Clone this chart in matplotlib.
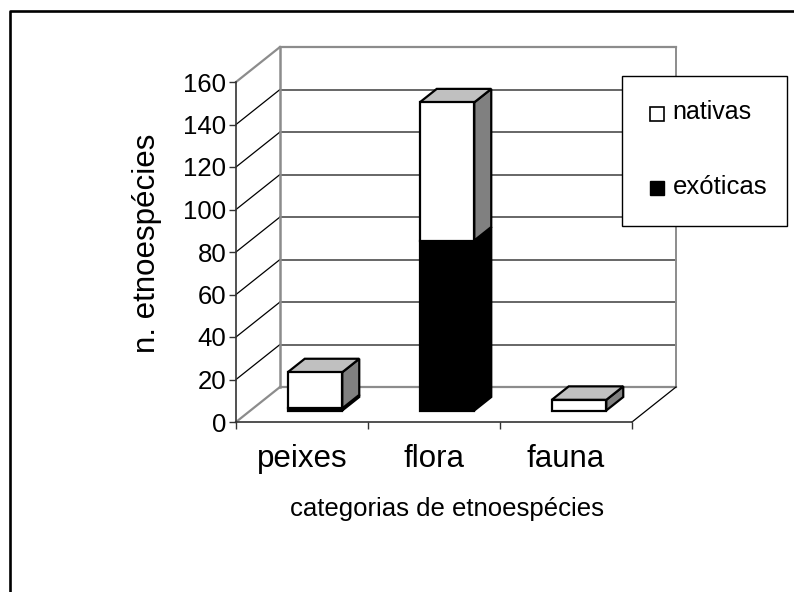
#!/usr/bin/env python3
import matplotlib
matplotlib.use("Agg")
import matplotlib.pyplot as plt
from matplotlib.patches import Polygon, Rectangle
from matplotlib.transforms import Affine2D

plt.rcParams['font.family'] = ['Liberation Sans', 'DejaVu Sans']

W, H = 794, 592

categories = ["peixes", "flora", "fauna"]
exoticas = [1, 80, 0]
nativas = [17, 65, 5]
y_ticks = [0, 20, 40, 60, 80, 100, 120, 140, 160]

GRID = "#4d4d4d"
WALL = "#8c8c8c"
TOP = "#c0c0c0"
SIDE = "#808080"


def px(x, y):
    return x / W, 1 - y / H


fig = plt.figure(figsize=(W / 100, H / 100), dpi=100)
fig.add_artist(plt.Line2D([10 / W, 10 / W, 1], [0, 1 - 11 / H, 1 - 11 / H],
                          transform=fig.transFigure, color="black", lw=1.9))

# axes = front plane of the 3d box
ax = fig.add_axes([236 / W, 1 - 422 / H, 396 / W, 340 / H])
ax.set_xlim(0, 3)
ax.set_ylim(0, 160)
ax.patch.set_visible(False)
for side in ["top", "right", "bottom", "left"]:
    ax.spines[side].set_visible(False)


def shifted(dx, dy):
    # pixel shift into the depth of the box
    return ax.transData + Affine2D().translate(dx, dy)


back = shifted(44, 35)
for v in y_ticks:
    col = WALL if v in (0, 160) else GRID
    lw = 1.6 if v in (0, 160) else 1.2
    ax.plot([0, 3], [v, v], transform=back, color=col, lw=lw, clip_on=False, zorder=1)
    # line running along the left wall
    a = ax.transData.transform((0, v))
    ax.add_line(plt.Line2D([a[0], a[0] + 44], [a[1], a[1] + 35], transform=Affine2D(),
                           color=WALL if v in (0, 160) else "black",
                           lw=1.6 if v in (0, 160) else 0.9, clip_on=False, zorder=1))
ax.plot([0, 0], [0, 160], transform=back, color=WALL, lw=1.8, clip_on=False, zorder=1)
ax.plot([3, 3], [0, 160], transform=back, color=WALL, lw=1.4, clip_on=False, zorder=1)

a = ax.transData.transform((3, 0))
ax.add_line(plt.Line2D([a[0], a[0] + 44], [a[1], a[1] + 35], transform=Affine2D(),
                       color="black", lw=0.9, clip_on=False, zorder=1))

ax.plot([0, 0], [0, 160], color="#333333", lw=1.2, clip_on=False, zorder=2)
ax.plot([0, 3], [0, 0], color="#333333", lw=1.2, clip_on=False, zorder=2)

# bars sit in the middle of the depth
BX, BY = 13, 11.5
DX, DY = 17, 13.5
BAR_W = 0.413
front = shifted(BX, BY)
rear = shifted(BX + DX, BY + DY)
for i in range(len(categories)):
    l = i + 0.5 - BAR_W / 2
    r = i + 0.5 + BAR_W / 2
    bottom = 0
    for vals, fc in ((exoticas, "black"), (nativas, "white")):
        top = bottom + vals[i]
        if vals[i] > 0:
            pa = front.transform([(r, bottom), (r, top)])
            pb = rear.transform([(r, top), (r, bottom)])
            ax.add_patch(Polygon(list(pa) + list(pb), transform=Affine2D(),
                                 fc="black" if fc == "black" else SIDE, ec="black", lw=1.6,
                                 clip_on=False, zorder=3.5))
            ax.add_patch(Rectangle((l, bottom), BAR_W, vals[i], transform=front,
                                   fc=fc, ec="black", lw=1.6, clip_on=False, zorder=4))
        bottom = top
    pa = front.transform([(l, bottom), (r, bottom)])
    pb = rear.transform([(r, bottom), (l, bottom)])
    ax.add_patch(Polygon(list(pa) + list(pb), transform=Affine2D(), fc=TOP, ec="black", lw=1.6,
                         clip_on=False, zorder=3.5))

ax.set_xticks([0, 1, 2, 3])
ax.set_xticklabels([])
ax.set_yticks(y_ticks)
ax.tick_params(axis="both", length=5, width=1, color="#333333", pad=2)
ax.tick_params(axis="y", labelsize=18.5)
for i, c in enumerate(categories):
    ax.text(i + 0.5, -10.3, c, ha="center", va="top", fontsize=22.5)

fig.text(*px(147, 243), "n. etnoespécies", rotation=90, ha="center", va="center", fontsize=22.5)
fig.text(*px(447, 509), "categorias de etnoespécies", ha="center", va="center", fontsize=18.5)

# legend box
fig.add_artist(Rectangle(px(622, 226), 165 / W, 150 / H, transform=fig.transFigure,
                         fc="white", ec="black", lw=1, zorder=5))
fig.add_artist(Rectangle(px(649.5, 121), 14 / W, 14 / H, transform=fig.transFigure,
                         fc="white", ec="black", lw=1.2, zorder=6))
fig.add_artist(Rectangle(px(649.5, 195), 14 / W, 14 / H, transform=fig.transFigure,
                         fc="black", ec="black", lw=1, zorder=6))
fig.text(*px(672.5, 112), "nativas", ha="left", va="center", fontsize=18, zorder=6)
fig.text(*px(672.5, 187), "exóticas", ha="left", va="center", fontsize=18.5, zorder=6)

fig.savefig("out.png", dpi=100)
